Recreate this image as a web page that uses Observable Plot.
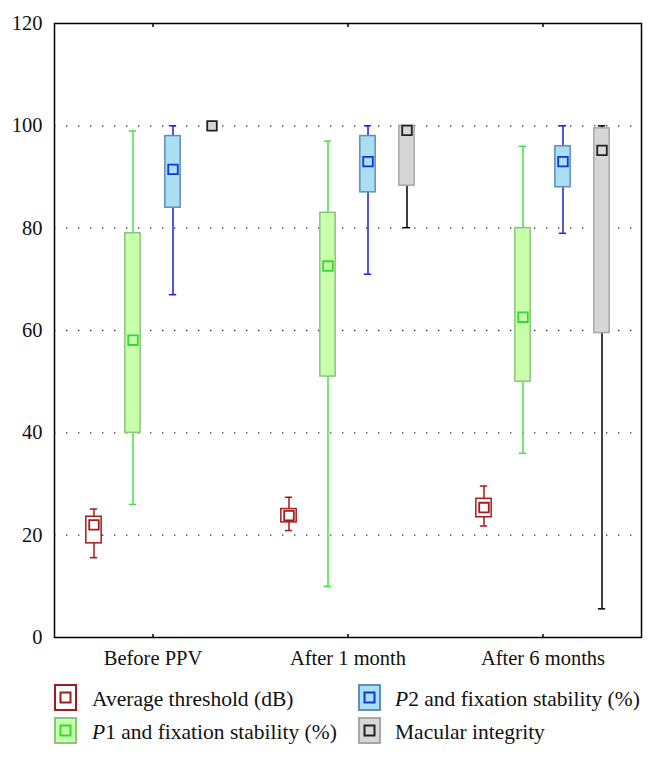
<!DOCTYPE html>
<html>
<head>
<meta charset="utf-8">
<script src="https://cdn.jsdelivr.net/npm/d3@7"></script>
<script src="https://cdn.jsdelivr.net/npm/@observablehq/plot@0.6"></script>
<style>
  html, body { margin: 0; padding: 0; background: #fff; }
  #wrap { width: 656px; font-family: "Liberation Serif", "DejaVu Serif", serif; }
  #legend { position: relative; width: 656px; height: 86px; font-size: 21.5px; color: #111; }
  .sw { position: absolute; }
  .lt { position: absolute; line-height: 26px; white-space: nowrap; }
</style>
</head>
<body>
<div id="wrap"></div>
<script>
// ---- data ----
const times = ["Before PPV", "After 1 month", "After 6 months"];
const seriesNames = ["Average threshold (dB)", "P1 and fixation stability (%)", "P2 and fixation stability (%)", "Macular integrity"];

const thresholdMin  = [15.6, 20.9, 21.8];
const thresholdQ1   = [18.4, 22.5, 23.5];
const thresholdQ3   = [23.6, 25.1, 27.1];
const thresholdMax  = [25.1, 27.4, 29.6];
const thresholdMean = [22.0, 23.8, 25.4];

const p1Min  = [26, 10, 36];
const p1Q1   = [40, 51, 50];
const p1Q3   = [79, 83, 80];
const p1Max  = [99, 97, 96];
const p1Mean = [58.1, 72.6, 62.6];

const p2Min  = [67, 71, 79];
const p2Q1   = [84, 87, 88];
const p2Q3   = [98, 98, 96];
const p2Max  = [100, 100, 100];
const p2Mean = [91.5, 93, 93];

const macMin  = [100, 80.1, 5.6];
const macQ1   = [100, 88.3, 59.5];
const macQ3   = [100, 100, 99.5];
const macMax  = [100, 100, 100];
const macMean = [100, 99.1, 95.2];

const yTicks = [0, 20, 40, 60, 80, 100, 120];
const gridTicks = [20, 40, 60, 80, 100];

// ---- build table ----
const stats = [
  [thresholdMin, thresholdQ1, thresholdQ3, thresholdMax, thresholdMean],
  [p1Min, p1Q1, p1Q3, p1Max, p1Mean],
  [p2Min, p2Q1, p2Q3, p2Max, p2Mean],
  [macMin, macQ1, macQ3, macMax, macMean]
];
const rows = [];
seriesNames.forEach((s, si) => {
  times.forEach((t, ti) => {
    const [mn, q1, q3, mx, me] = stats[si];
    rows.push({series: s, time: t, min: mn[ti], q1: q1[ti], q3: q3[ti], max: mx[ti], mean: me[ti]});
  });
});

// ---- styles ----
const styles = [
  {boxFill: "#ffffff", boxStroke: "#a31c1c", whisker: "#a31c1c", meanStroke: "#a31c1c", meanFill: "#ffffff", off: -59},
  {boxFill: "#c8ffaa", boxStroke: "#8fc27f", whisker: "#45e045", meanStroke: "#2fdc2f", meanFill: "#c8ffaa", off: -20},
  {boxFill: "#a9def3", boxStroke: "#5e8fb2", whisker: "#1c1cdc", meanStroke: "#1236d6", meanFill: "#a9def3", off: 20},
  {boxFill: "#d7d7d7", boxStroke: "#a6a6a6", whisker: "#000000", meanStroke: "#222222", meanFill: "#d7d7d7", off: 59}
];

const W = 656, H = 672, ML = 54, MR = 15, MT = 23, MB = 35;
const bw = (W - ML - MR) / times.length;
const boxHalf = 8, capHalf = 4;

const marks = [
  Plot.gridY(gridTicks, {stroke: "#333", strokeOpacity: 1, strokeWidth: 1.4, strokeDasharray: "1.4,10.6"})
];
seriesNames.forEach((s, si) => {
  const st = styles[si];
  const d = rows.filter(r => r.series === s);
  marks.push(
    Plot.ruleX(d, {x: "time", y1: "min", y2: "q1", dx: st.off, stroke: st.whisker, strokeWidth: 1.5}),
    Plot.ruleX(d, {x: "time", y1: "q3", y2: "max", dx: st.off, stroke: st.whisker, strokeWidth: 1.5}),
    Plot.tickY(d, {x: "time", y: "min", stroke: st.whisker, strokeWidth: 1.5,
      insetLeft: bw / 2 + st.off - capHalf, insetRight: bw / 2 - st.off - capHalf}),
    Plot.tickY(d, {x: "time", y: "max", stroke: st.whisker, strokeWidth: 1.5,
      insetLeft: bw / 2 + st.off - capHalf, insetRight: bw / 2 - st.off - capHalf}),
    Plot.rectY(d, {x: "time", y1: "q1", y2: "q3", fill: st.boxFill, stroke: st.boxStroke, strokeWidth: 1.5,
      insetLeft: bw / 2 + st.off - boxHalf, insetRight: bw / 2 - st.off - boxHalf}),
    Plot.dot(d, {x: "time", y: "mean", dx: st.off, symbol: "square", r: 5.4, fill: st.meanFill, stroke: st.meanStroke, strokeWidth: 1.8})
  );
});
marks.push(
  Plot.frame({stroke: "#000", strokeWidth: 1.5}),
  Plot.axisY(yTicks, {tickSize: 0, tickPadding: 12, fontSize: 20.5, label: null}),
  Plot.axisX({anchor: "bottom", tickSize: 0, tickPadding: 13, fontSize: 20.5, label: null}),
  Plot.axisX({anchor: "bottom", tickSize: 3, dy: -3, fill: "none", stroke: "#000", strokeWidth: 1.5, label: null}),
  Plot.axisX({anchor: "top", tickSize: 3, dy: 3, fill: "none", stroke: "#000", strokeWidth: 1.5, label: null})
);

const chart = Plot.plot({
  width: W, height: H,
  marginLeft: ML, marginRight: MR, marginTop: MT, marginBottom: MB,
  style: {fontFamily: "'Liberation Serif', 'DejaVu Serif', serif", fontSize: "20.5px", color: "#111", background: "#fff"},
  x: {type: "band", domain: times, padding: 0, axis: null},
  y: {domain: [0, 120], axis: null},
  marks
});
const wrap = document.getElementById("wrap");
wrap.appendChild(chart);

// ---- legend ----
const legend = document.createElement("div");
legend.id = "legend";
const legendPos = [
  {left: 54, top: 12, textLeft: 92},
  {left: 54, top: 45, textLeft: 92},
  {left: 358, top: 12, textLeft: 395},
  {left: 358, top: 45, textLeft: 395}
];
const labelHtml = [
  "Average threshold (dB)",
  "<i>P</i>1 and fixation stability (%)",
  "<i>P</i>2 and fixation stability (%)",
  "Macular integrity"
];
seriesNames.forEach((s, i) => {
  const st = styles[i], p = legendPos[i];
  const sw = document.createElementNS("http://www.w3.org/2000/svg", "svg");
  sw.setAttribute("class", "sw");
  sw.setAttribute("width", 23); sw.setAttribute("height", 27);
  sw.style.left = p.left + "px"; sw.style.top = p.top + "px";
  sw.innerHTML = `<rect x="1" y="1" width="21" height="25" fill="${st.boxFill}" stroke="${st.boxStroke}" stroke-width="2"/>` +
    `<rect x="6.5" y="8.5" width="10" height="10" fill="${st.meanFill}" stroke="${st.meanStroke}" stroke-width="2"/>`;
  legend.appendChild(sw);
  const t = document.createElement("div");
  t.className = "lt";
  t.style.left = p.textLeft + "px"; t.style.top = (p.top + 2) + "px";
  t.innerHTML = labelHtml[i];
  legend.appendChild(t);
});
wrap.appendChild(legend);
</script>
</body>
</html>
